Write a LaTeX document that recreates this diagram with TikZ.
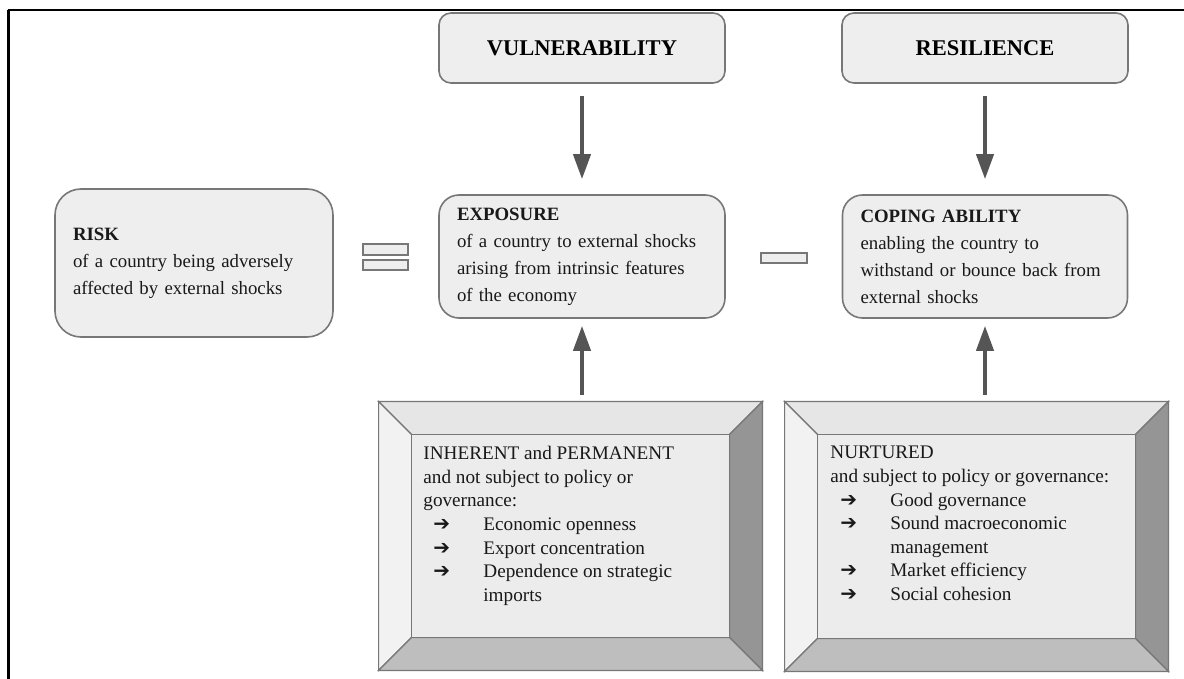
\documentclass[tikz,border=0pt]{standalone}
\usepackage{fontspec}
\setmainfont{Liberation Serif}
\newfontfamily\symfont{DejaVu Sans}
\usetikzlibrary{calc, positioning, arrows.meta}

\definecolor{boxfill}{HTML}{EEEEEE}
\definecolor{boxline}{HTML}{777777}
\definecolor{arrowgray}{HTML}{555555}
\definecolor{facetop}{HTML}{E6E6E6}
\definecolor{faceleft}{HTML}{F2F2F2}
\definecolor{faceright}{HTML}{959595}
\definecolor{facebottom}{HTML}{BEBEBE}
\definecolor{facemid}{HTML}{ECECEC}

\tikzset{
  rbox/.style={draw=boxline, fill=boxfill, line width=0.8pt, rounded corners=10pt,
    align=left, inner xsep=9pt, font=\fontsize{9.4pt}{13.5pt}\selectfont, text=black!90},
  titlebox/.style={draw=boxline, fill=boxfill, line width=0.8pt, rounded corners=6pt,
    minimum width=143pt, minimum height=35pt, font=\fontsize{11.25pt}{13pt}\selectfont\bfseries},
  signbar/.style={draw=boxline, fill=boxfill, line width=0.6pt},
  arr/.style={draw=arrowgray, line width=2pt, -{Triangle[width=8.5pt,length=12.5pt]}},
  bevelout/.style={minimum width=191.5pt, minimum height=134pt, inner sep=0pt},
  beveltext/.style={anchor=north west, inner sep=0pt, align=left,
    font=\fontsize{9.6pt}{11.8pt}\selectfont, text=black!90},
  face/.style={draw=boxline, line width=0.6pt}
}

% bevelled frame round a named node
\newcommand{\bevel}[1]{%
  \coordinate (#1-a) at ($(#1.north west)+(16.5pt,-16.5pt)$);
  \coordinate (#1-b) at ($(#1.north east)+(-16.5pt,-16.5pt)$);
  \coordinate (#1-c) at ($(#1.south east)+(-16.5pt,16.5pt)$);
  \coordinate (#1-d) at ($(#1.south west)+(16.5pt,16.5pt)$);
  \filldraw[face, fill=facetop] (#1.north west) -- (#1.north east) -- (#1-b) -- (#1-a) -- cycle;
  \filldraw[face, fill=faceleft] (#1.north west) -- (#1-a) -- (#1-d) -- (#1.south west) -- cycle;
  \filldraw[face, fill=faceright] (#1.north east) -- (#1.south east) -- (#1-c) -- (#1-b) -- cycle;
  \filldraw[face, fill=facebottom] (#1.south west) -- (#1-d) -- (#1-c) -- (#1.south east) -- cycle;
  \filldraw[face, fill=facemid] (#1-a) rectangle (#1-c);
}
\newcommand{\itm}[1]{\hspace*{5pt}\makebox[25pt][l]{\symfont\bfseries\fontsize{10pt}{10pt}\selectfont ➔}#1}

\begin{document}
\begin{tikzpicture}[x=0.5pt, y=-0.5pt]

  \useasboundingbox (0,0) rectangle (1184,679);

  %page frame
  \draw[line width=1.5pt] (8,679) -- (8,10);
  \draw[line width=1pt] (7.5,10) -- (1184,10);

  %top row
  \node[titlebox] (vul) at (582,48) {VULNERABILITY};
  \node[titlebox] (res) at (985,48) {RESILIENCE};

  %middle row
  \node[rbox, rounded corners=13pt, minimum width=139pt, minimum height=74pt, text width=121pt] (risk) at (194,263)
    {\textbf{RISK}\\of a country being adversely\\affected by external shocks};
  \node[rbox, minimum width=143pt, minimum height=61.5pt, text width=125pt] (expo) at (582,256.5)
    {\textbf{EXPOSURE}\\of a country to external shocks\\arising from intrinsic features\\of the economy};
  \node[rbox, minimum width=142.5pt, minimum height=61.5pt, text width=124.5pt] (cope) at (985,256.5)
    {\textbf{COPING ABILITY}\\enabling the country to\\withstand or bounce back from\\external shocks};

  %equals and minus signs
  \draw[signbar] (363,244) rectangle (408,255);
  \draw[signbar] (363,260) rectangle (408,270);
  \draw[signbar] (761,253) rectangle (807,263);

  %bottom row
  \node[bevelout] (inh) at (570.5,536) {};
  \node[bevelout, minimum height=134.5pt] (nur) at (976.5,536.5) {};
  \bevel{inh}
  \bevel{nur}
  \node[beveltext] (inhtext) at (423,446)
    {INHERENT and PERMANENT\\and not subject to policy or\\governance:\\
     \itm{Economic openness}\\\itm{Export concentration}\\\itm{Dependence on strategic}\\
     \hspace*{30pt}imports};
  \node[beveltext] (nurtext) at (830,446)
    {NURTURED\\and subject to policy or governance:\\
     \itm{Good governance}\\\itm{Sound macroeconomic}\\\hspace*{30pt}management\\
     \itm{Market efficiency}\\\itm{Social cohesion}};

  %arrows
  \draw[arr, shorten <=6pt, shorten >=7.5pt] (vul.south) -- (expo.north);
  \draw[arr, shorten <=6pt, shorten >=7.5pt] (res.south) -- (cope.north);
  \draw[arr, shorten <=3.5pt, shorten >=3.5pt] (expo.south |- inh.north) -- (expo.south);
  \draw[arr, shorten <=3.5pt, shorten >=3.5pt] (cope.south |- nur.north) -- (cope.south);

\end{tikzpicture}
\end{document}
